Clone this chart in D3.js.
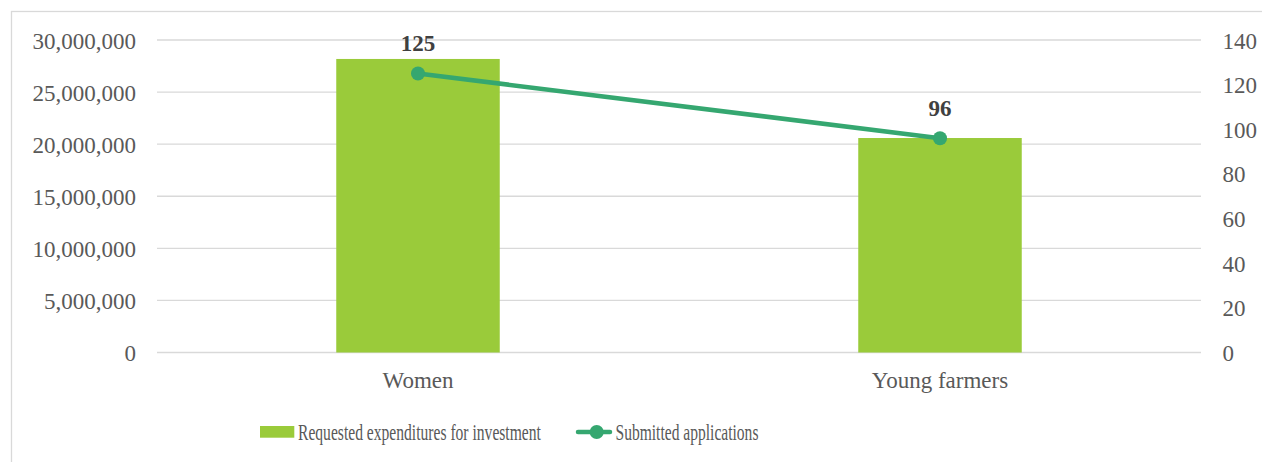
<!DOCTYPE html>
<html>
<head>
<meta charset="utf-8">
<script src="https://cdn.jsdelivr.net/npm/d3@7"></script>
<style>
  html, body { margin: 0; padding: 0; background: #fff; }
  svg { display: block; }
  svg text { font-family: "Liberation Serif", "Times New Roman", serif; }
</style>
</head>
<body>
<svg id="chart" width="1262" height="462"></svg>
<script>
// Categories and series
const categories = ["Women", "Young farmers"];
const expenditures = [28180000, 20590000];   // Requested expenditures for investment (left axis)
const applications = [125, 96];              // Submitted applications (right axis)
const leftTicks = [0, 5000000, 10000000, 15000000, 20000000, 25000000, 30000000];
const rightTicks = [0, 20, 40, 60, 80, 100, 120, 140];
const seriesNames = ["Requested expenditures for investment", "Submitted applications"];

const barColor = "#9acb3a";
const lineColor = "#35a770";
const textColor = "#595959";
const gridColor = "#d9d9d9";
const serif = "'Liberation Serif', 'Times New Roman', serif";

const svg = d3.select("#chart");
const plot = { left: 157, right: 1201, top: 40, bottom: 352.5 };

// Outer chart frame
svg.append("rect")
  .attr("x", 11.5).attr("y", 11.5)
  .attr("width", 1270).attr("height", 470)
  .attr("fill", "none").attr("stroke", gridColor).attr("stroke-width", 1.3);

const p = 1 - 163.5 / 522;
const x = d3.scaleBand().domain(categories)
  .range([plot.left, plot.right]).paddingInner(p).paddingOuter(p / 2);
const yL = d3.scaleLinear().domain([0, 30000000]).range([plot.bottom, plot.top]);
const yR = d3.scaleLinear().domain([0, 140]).range([plot.bottom, plot.top]);

// Horizontal gridlines
svg.append("g").selectAll("line").data(leftTicks).join("line")
  .attr("x1", plot.left).attr("x2", plot.right)
  .attr("y1", d => yL(d)).attr("y2", d => yL(d))
  .attr("stroke", gridColor).attr("stroke-width", 1.3);

// Left axis
const gL = svg.append("g").attr("transform", `translate(${plot.left},0)`)
  .call(d3.axisLeft(yL).tickValues(leftTicks).tickFormat(d3.format(",")).tickSize(0).tickPadding(21));
// Right axis
const gR = svg.append("g").attr("transform", `translate(${plot.right},0)`)
  .call(d3.axisRight(yR).tickValues(rightTicks).tickSize(0).tickPadding(21.5));
// Category axis
const gB = svg.append("g").attr("transform", `translate(0,${plot.bottom})`)
  .call(d3.axisBottom(x).tickSize(0).tickPadding(19.5));

[gL, gR, gB].forEach(g => {
  g.attr("font-family", serif).attr("font-size", 23);
  g.select(".domain").remove();
  g.selectAll("text").attr("fill", textColor);
});
gL.selectAll("text").attr("dy", "0.35em");
gR.selectAll("text").attr("dy", "0.35em");

// Bars
svg.append("g").selectAll("rect").data(categories).join("rect")
  .attr("x", d => x(d)).attr("width", x.bandwidth())
  .attr("y", (d, i) => yL(expenditures[i]))
  .attr("height", (d, i) => yL(0) - yL(expenditures[i]))
  .attr("fill", barColor);

// Line with markers
const pts = categories.map((c, i) => [x(c) + x.bandwidth() / 2, yR(applications[i])]);
svg.append("path").datum(pts)
  .attr("d", d3.line())
  .attr("fill", "none").attr("stroke", lineColor).attr("stroke-width", 4.5)
  .attr("stroke-linecap", "round");
svg.append("g").selectAll("circle").data(pts).join("circle")
  .attr("cx", d => d[0]).attr("cy", d => d[1]).attr("r", 7)
  .attr("fill", lineColor);

// Value labels
svg.append("g").selectAll("text").data(applications).join("text")
  .attr("x", (d, i) => pts[i][0]).attr("y", d => yR(d) - 22.6)
  .attr("text-anchor", "middle")
  .attr("fill", "#404040").attr("font-size", 23).attr("font-weight", "bold")
  .attr("font-family", serif)
  .text(d => d);

// Legend: condensed labels, squeezed horizontally to a fixed width
function legendText(x0, width, label) {
  const t = svg.append("text")
    .attr("fill", textColor).attr("font-size", 23).attr("font-family", serif)
    .text(label);
  const w = t.node().getComputedTextLength();
  t.attr("transform", `translate(${x0},440) scale(${width / w},1)`);
}
svg.append("rect").attr("x", 260).attr("y", 426).attr("width", 34.3).attr("height", 11.7).attr("fill", barColor);
legendText(298, 243, seriesNames[0]);
svg.append("line").attr("x1", 578).attr("x2", 610).attr("y1", 432).attr("y2", 432)
  .attr("stroke", lineColor).attr("stroke-width", 4.5).attr("stroke-linecap", "round");
svg.append("circle").attr("cx", 596.7).attr("cy", 432).attr("r", 7).attr("fill", lineColor);
legendText(615.5, 143, seriesNames[1]);
</script>
</body>
</html>
